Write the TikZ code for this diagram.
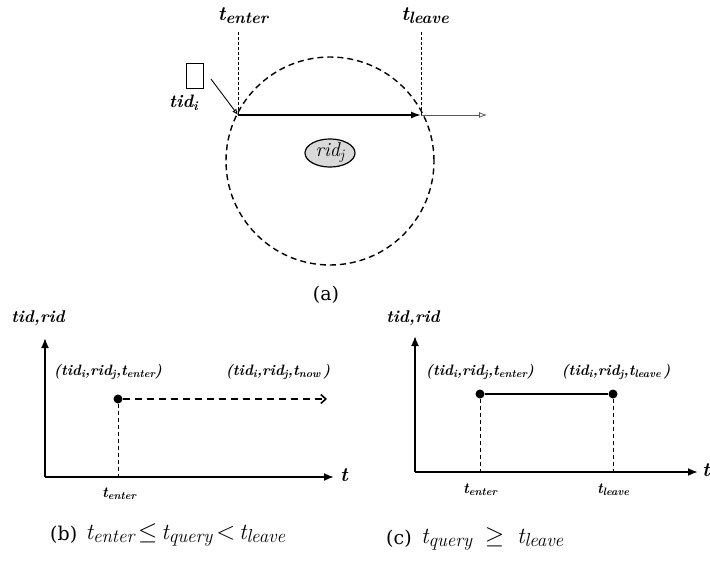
\documentclass[tikz,border=0pt]{standalone}
\usepackage{fontspec}
\newfontfamily\capfont{DejaVu Serif}
\usetikzlibrary{arrows.meta,shapes.geometric}
\newcommand{\Sb}[1]{\raisebox{-0.35ex}{\scalebox{0.72}{#1}}}
\newcommand{\Sbb}[1]{\raisebox{-0.35ex}{\scalebox{0.82}{#1}}}
\begin{document}
\begin{tikzpicture}[x=1pt,y=-1pt,
  lbl/.style={font=\fontsize{20}{22}\selectfont\bfseries\itshape, inner sep=0},
  blbl/.style={font=\fontsize{15}{17}\selectfont\bfseries\itshape, inner sep=0},
  tup/.style={font=\fontsize{15}{17}\selectfont\bfseries\itshape, inner sep=0},
  axislbl/.style={font=\fontsize{17}{19}\selectfont\bfseries\itshape, inner sep=0},
  caption/.style={font=\fontsize{23}{25}\selectfont\itshape, inner sep=0},
  paren/.style={font=\fontsize{19}{21}\selectfont\capfont, inner sep=0},
  axisline/.style={line width=1.8pt, -{Latex[length=10pt,width=8pt]}},
  finedash/.style={line width=0.8pt, dash pattern=on 3pt off 2pt},
  vdash/.style={line width=0.9pt, dash pattern=on 4pt off 3pt},
  dot/.style={circle, fill=black, inner sep=0, minimum size=9pt}
]
\useasboundingbox (0,0) rectangle (710,560);

% ---------- (a) ----------
\node[lbl] (tenA) at (243,16) {t\Sbb{enter}};
\node[lbl] (tleA) at (425,16) {t\Sbb{leave}};
\coordinate (ent) at (238,115);
\coordinate (lea) at (421,115);
\coordinate (endA) at (487,115);
\coordinate (entTop) at (238,32);
\coordinate (leaTop) at (421,32);
\draw[finedash] (entTop) -- (ent);
\draw[finedash] (leaTop) -- (lea);
\node[circle, draw, line width=1.4pt, dash pattern=on 6pt off 4pt, minimum size=208pt, inner sep=0] (circ) at (330,161) {};
\node[ellipse, draw, line width=1.2pt, fill=gray!30, minimum width=50pt, minimum height=26pt, inner sep=0] (rid) at (330,153) {\fontsize{20}{22}\selectfont\itshape rid\Sb{j}};
\draw[gray!70!black, line width=0.8pt, -{Latex[open,length=8pt,width=6pt]}] (lea) -- (endA);
\draw[line width=1.5pt, -{Latex[length=10pt,width=7pt]}] (ent) -- (lea);
\node[draw, line width=0.9pt, minimum width=17pt, minimum height=25pt, inner sep=0] (box) at (195,76) {};
\draw[line width=0.9pt, -{Latex[open,length=6pt,width=5pt]}] ([xshift=7pt,yshift=-3pt]box.east) -- (ent);
\node[font=\fontsize{18}{20}\selectfont\bfseries\itshape, inner sep=0, anchor=east] (tid) at (198,103) {tid\Sb{i}};
\node[paren] (capA) at (326,295) {(a)};

% ---------- (b) ----------
\node[axislbl] (yb) at (38,318) {tid,rid};
\coordinate (ob) at (45,477);
\coordinate (ybTop) at (45,338);
\coordinate (xbEnd) at (334,477);
\draw[axisline] (ob) -- (ybTop);
\draw[axisline] (ob) -- (xbEnd);
\node[font=\fontsize{20}{22}\selectfont\bfseries\itshape, inner sep=0, anchor=west] (tb) at (340,475) {t};
\node[dot] (db) at (118,399) {};
\coordinate (dbBase) at (118,477);
\coordinate (dbEnd) at (327,399);
\draw[vdash] (db) -- (dbBase);
\draw[line width=1.6pt, dash pattern=on 7pt off 5pt, -{Straight Barb[length=5pt,width=9pt,line width=1.6pt]}] (db) -- (dbEnd);
\node[tup] (lb1) at (108,372) {(tid\Sb{i},rid\Sb{j},t\Sb{enter})};
\node[tup] (lb2) at (278,372) {(tid\Sb{i},rid\Sb{j},t\Sb{now}\,)};
\node[blbl] (tbe) at (119,494) {t\Sb{enter}};
\node[paren, anchor=west] (capBp) at (50,535) {(b)};
\node[caption, anchor=west] (capB) at ([xshift=8pt]capBp.east) {t\Sbb{enter}\,{\upshape$\le$}\,t\Sbb{query}\,{\upshape$<$}\,t\Sbb{leave}};

% ---------- (c) ----------
\node[axislbl] (yc) at (413,318) {tid,rid};
\coordinate (oc) at (415,472);
\coordinate (ycTop) at (415,336);
\coordinate (xcEnd) at (698,472);
\draw[axisline] (oc) -- (ycTop);
\draw[axisline] (oc) -- (xcEnd);
\node[font=\fontsize{20}{22}\selectfont\bfseries\itshape, inner sep=0, anchor=west] (tc) at (702,470) {t};
\node[dot] (dc1) at (480,394) {};
\node[dot] (dc2) at (613,394) {};
\coordinate (dc1Base) at (480,472);
\coordinate (dc2Base) at (613,472);
\draw[vdash] (dc1) -- (dc1Base);
\draw[vdash] (dc2) -- (dc2Base);
\draw[line width=1.6pt] (dc1) -- (dc2);
\node[tup] (lc1) at (480,372) {(tid\Sb{i},rid\Sb{j},t\Sb{enter})};
\node[tup] (lc2) at (616,372) {(tid\Sb{i},rid\Sb{j},t\Sb{leave}\,)};
\node[blbl] (tce) at (480,490) {t\Sb{enter}};
\node[blbl] (tcl) at (613,490) {t\Sb{leave}};
\node[paren, anchor=west] (capCp) at (386,539) {(c)};
\node[caption, anchor=west] (capC) at ([xshift=9pt]capCp.east) {t\Sbb{query}\;\;{\upshape$\ge$}\;\;t\Sbb{leave}};
\end{tikzpicture}
\end{document}
